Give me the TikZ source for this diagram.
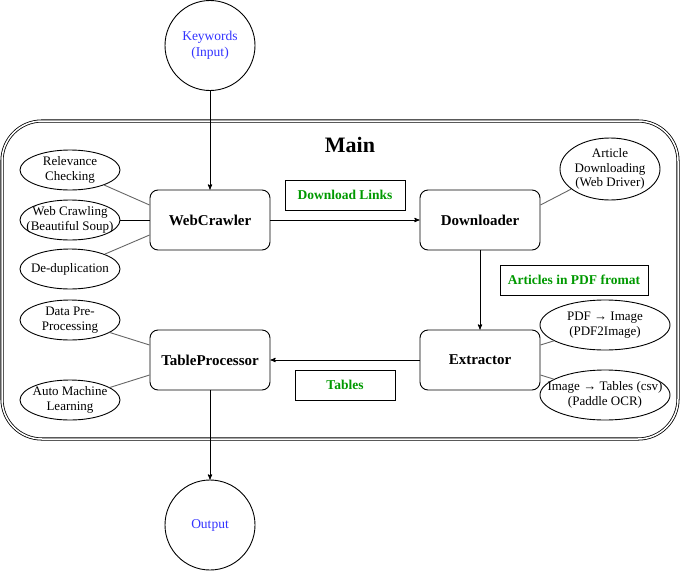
\documentclass[tikz,border=0pt]{standalone}
\usepackage{fontspec}
\setmainfont{Liberation Serif}
\usetikzlibrary{arrows,shapes.geometric}
\definecolor{linkgreen}{RGB}{0,153,0}
\definecolor{inblue}{RGB}{51,51,255}
\tikzstyle{module}=[draw,rounded corners=8pt,minimum width=120pt,minimum height=60pt,font=\fontsize{15}{17}\selectfont\bfseries]
\tikzstyle{task}=[draw,ellipse,inner ysep=-1pt,inner xsep=-16pt,align=center,font=\fontsize{13}{14.5}\selectfont]
\tikzstyle{tag}=[draw,minimum height=30pt,text=linkgreen,font=\fontsize{13.5}{15}\selectfont\bfseries]
\tikzstyle{terminal}=[draw,circle,minimum size=90pt,inner sep=0pt,align=center,text=inblue,font=\fontsize{13.5}{16}\selectfont]
\tikzstyle{edge}=[draw,->,>=stealth']
\tikzstyle{side edge}=[draw,black!60]

\begin{document}
\begin{tikzpicture}[x=1pt,y=-1pt,line width=0.9pt]
				\useasboundingbox (0,0) rectangle (681,571);
				% The main frame
				\draw[double,double distance=1.5pt,line width=0.8pt,rounded corners=40pt] (2,121) rectangle (678,439);
				\node[font=\fontsize{22}{24}\selectfont\bfseries] (main) at (350,145) {Main};

				% Input and output
				\node[terminal] (kw) at (210,45.5) {Keywords\\(Input)};
				\node[terminal] (out) at (210,525) {Output};

				% The modules
				\foreach \pos/\name/\txt in {{(210,220)/web/WebCrawler}, {(480,220)/dl/Downloader},
										{(480,360)/ext/Extractor}, {(210,360)/tp/TableProcessor}}
				\node[module] (\name) at \pos {\txt};

				% Data passed between modules
				\node[tag,minimum width=120pt] (links) at (345,195) {Download Links};
				\node[tag,minimum width=148pt] (pdfs) at (574,280) {Articles in PDF fromat};
				\node[tag,minimum width=100pt] (tables) at (345,385) {Tables};

				% Sub tasks
				\foreach \pos/\name/\w/\h/\txt in {{(70,170)/rel/100/40/{Relevance\\Checking}},
										{(70,220)/crawl/100/40/{Web Crawling\\(Beautiful Soup)}},
										{(70,269)/dedup/100/40/{De-duplication}},
										{(70,320)/prep/100/40/{Data Pre-\\Processing}},
										{(70,400)/aml/100/40/{Auto Machine\\Learning}},
										{(610,169)/wdrv/100/62/{Article\\Downloading\\(Web Driver)}},
										{(605,325)/pdfimg/130/50/{PDF → Image\\(PDF2Image)}},
										{(605,395)/ocr/130/50/{Image → Tables (csv)\\(Paddle OCR)}}}
				\node[task,minimum width=\w pt,minimum height=\h pt] (\name) at \pos {\txt};

				% Main flow
				\foreach \source/ \dest in {kw/web, web/dl, dl/ext, ext/tp, tp/out}
				\path[edge] (\source) -- (\dest);

				% Sub tasks to their modules
				\path[draw] (crawl) -- (web);
				\path[side edge] (rel) -- ([yshift=15pt]web.west);
				\path[side edge] (dedup) -- ([yshift=-15pt]web.west);
				\path[side edge] (wdrv) -- ([yshift=15pt]dl.east);
				\path[side edge] (prep) -- ([yshift=15pt]tp.west);
				\path[side edge] (aml) -- ([yshift=-15pt]tp.west);
				\path[side edge] (pdfimg) -- ([yshift=15pt]ext.east);
				\path[side edge] (ocr) -- ([yshift=-15pt]ext.east);
			\end{tikzpicture}
\end{document}
